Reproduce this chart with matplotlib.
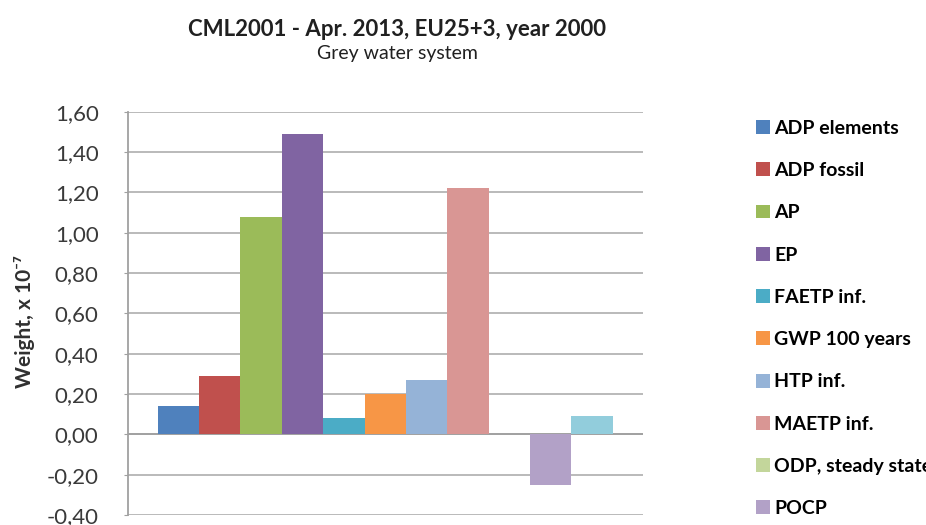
import numpy as np
import matplotlib.pyplot as plt

plt.rcParams['font.family'] = ['Lato', 'DejaVu Sans']

# impact categories (one bar each, single group)
categories = ['ADP elements', 'ADP fossil', 'AP', 'EP', 'FAETP inf.', 'GWP 100 years',
              'HTP inf.', 'MAETP inf.', 'ODP, steady state', 'POCP', 'TETP inf.']
weights = [0.14, 0.29, 1.08, 1.49, 0.08, 0.20, 0.27, 1.22, 0.0, -0.25, 0.09]
colors = ['#4F81BD', '#C0504D', '#9BBB59', '#8064A2', '#4BACC6', '#F79646',
          '#95B3D7', '#D99694', '#C3D69B', '#B2A1C7', '#92CDDC']
yticks = [-0.4, -0.2, 0.0, 0.2, 0.4, 0.6, 0.8, 1.0, 1.2, 1.4, 1.6]

fig = plt.figure(figsize=(9.26, 5.25), dpi=100)
ax = fig.add_axes([0.138, 0.019, 0.556, 0.768])

n = len(categories)
x = np.arange(n)
handles = []
for i in range(n):
    b = ax.bar(x[i], weights[i], width=1.0, color=colors[i], align='edge',
               label=categories[i], zorder=3)
    handles.append(b)

# excel-ish gap on both sides of the group
ax.set_xlim(-0.72, n + 0.72)
ax.set_ylim(-0.4, 1.6)
ax.set_yticks(yticks)
ax.set_yticklabels([('%.2f' % v).replace('.', ',') for v in yticks], fontsize=16, color='#3A3A3A')
ax.set_xticks([])
ax.grid(axis='y', color='#B4B4B4', linewidth=1.3, zorder=0)
ax.axhline(0, color='#A0A0A0', linewidth=1.3, zorder=2)
for s in ['top', 'right', 'bottom']:
    ax.spines[s].set_visible(False)
ax.spines['left'].set_color('#A0A0A0')
ax.spines['left'].set_linewidth(1.3)
ax.tick_params(axis='y', length=3, color='#A0A0A0', pad=18)

ax.set_ylabel('Weight, x 10⁻⁷', fontsize=15, fontweight='bold', color='#303030')
ax.yaxis.set_label_coords(-0.18, 0.48)

fig.text(0.429, 0.943, 'CML2001 - Apr. 2013, EU25+3, year 2000', ha='center', va='center',
         fontsize=16, fontweight='bold', color='#202020')
fig.text(0.429, 0.898, 'Grey water system', ha='center', va='center', fontsize=14,
         color='#202020')

fig.legend(handles=handles, labels=categories, loc='upper left',
           bbox_to_anchor=(0.816, 0.772), frameon=False,
           prop={'size': 14, 'weight': 'bold'},
           handlelength=0.72, handleheight=0.72, handletextpad=0.25,
           labelspacing=1.30, borderpad=0, borderaxespad=0)

fig.savefig('out.png', dpi=100)
